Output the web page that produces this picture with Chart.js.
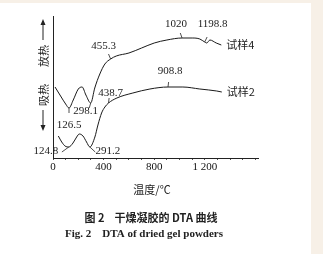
<!DOCTYPE html>
<html>
<head>
<meta charset="utf-8">
<script src="https://cdn.jsdelivr.net/npm/chart.js@4.4.1/dist/chart.umd.min.js"></script>
<style>
  html, body { margin: 0; padding: 0; background: #f7f0e7; }
  #wrap { width: 323px; height: 254px; }
</style>
</head>
<body>
<div id="wrap"><canvas id="dta"></canvas></div>
<script>
// DTA curves, temperature (°C) vs. signal (arbitrary units)
const s4Temp = [16, 60, 100, 126.5, 160, 200, 230, 260, 298.1, 330, 370, 410, 455.3, 500, 600, 700, 800, 900, 1020, 1100, 1160, 1198.8, 1215, 1240, 1290, 1330];
const s4Val  = [71, 62, 54, 50, 58, 69, 71, 63, 55, 70, 84, 94, 99, 102, 105, 110, 115, 118, 120, 120, 119, 116, 115, 118, 115, 113];
const s2Temp = [42, 69, 95, 124.8, 158, 187, 208, 237, 265, 291.2, 331, 355, 384, 410, 438.7, 505, 631, 766, 908.8, 1026, 1160, 1294, 1334];
const s2Val  = [22, 16, 12, 11, 15, 21, 24, 22, 16, 11, 21, 33, 45, 51, 55, 60, 65, 69, 71, 71, 69, 67, 66];
const xTickLabels = { 0: '0', 400: '400', 800: '800', 1200: '1 200' };
const seriesNames = ['试样4', '试样2'];

// peak labels: [text, temp, value, dx, dy]
const peaks = [
  ['455.3', 455.3, 99, -7, -13],
  ['1020', 1020, 120, -6, -14],
  ['1198.8', 1198.8, 116, 8, -18],
  ['908.8', 908.8, 71, 2, -16],
  ['438.7', 438.7, 55, 2, -10],
  ['298.1', 298.1, 55, -5, 8],
  ['126.5', 126.5, 50, 0, 17],
  ['124.8', 124.8, 11, -23, 4],
  ['291.2', 291.2, 11, 18, 4],
];

const SERIF = '"Liberation Serif", "DejaVu Serif", serif';
const CJK = '"Noto Sans CJK SC", sans-serif';

const toPoints = (xs, ys) => xs.map((x, i) => ({ x, y: ys[i] }));

// background paper + annotations
const decor = {
  id: 'decor',
  beforeDraw(chart) {
    const c = chart.ctx;
    c.save();
    c.fillStyle = '#f7f0e7';
    c.fillRect(0, 0, chart.width, chart.height);
    c.fillStyle = '#ffffff';
    c.fillRect(0, 3, 311, chart.height - 3);
    c.restore();
  },
  afterDraw(chart) {
    const c = chart.ctx;
    const xs = chart.scales.x, ys = chart.scales.y;
    c.save();
    c.fillStyle = '#222';
    c.strokeStyle = '#222';
    c.lineWidth = 0.8;
    c.textAlign = 'center';
    c.textBaseline = 'middle';

    // peak values with short leaders
    c.font = '11px ' + SERIF;
    peaks.forEach(([txt, t, v, dx, dy]) => {
      const px = xs.getPixelForValue(t), py = ys.getPixelForValue(v);
      c.fillText(txt, px + dx, py + dy);
      const sign = dy < 0 ? -1 : 1;
      c.beginPath();
      c.moveTo(px, py);
      c.lineTo(px + dx * 0.3, py + sign * 5);
      c.stroke();
    });

    // series names at curve ends
    c.font = '11px ' + CJK;
    c.textAlign = 'left';
    const ends = [[s4Temp, s4Val], [s2Temp, s2Val]];
    ends.forEach(([tx, vy], i) => {
      const n = tx.length - 1;
      c.fillText(seriesNames[i], xs.getPixelForValue(tx[n]) + 5, ys.getPixelForValue(vy[n]));
    });

    // y axis title: 吸热 / 放热 with arrows
    const ax = 44;
    c.save();
    c.translate(ax, 0);
    c.rotate(-Math.PI / 2);
    c.textAlign = 'center';
    c.font = '11px ' + CJK;
    c.fillText('放热', -56, 0);
    c.fillText('吸热', -95, 0);
    c.restore();
    c.lineWidth = 1;
    c.beginPath();
    c.moveTo(ax - 1, 40); c.lineTo(ax - 1, 22);
    c.moveTo(ax - 1, 110); c.lineTo(ax - 1, 128);
    c.stroke();
    c.beginPath();
    c.moveTo(ax - 1, 19); c.lineTo(ax - 3.5, 25); c.lineTo(ax + 1.5, 25); c.closePath();
    c.moveTo(ax - 1, 131); c.lineTo(ax - 3.5, 125); c.lineTo(ax + 1.5, 125); c.closePath();
    c.fill();

    // x axis title and captions
    c.textAlign = 'center';
    c.font = '11px ' + CJK;
    c.fillText('温度/℃', 152, 190);
    c.font = 'bold 11px ' + CJK;
    c.fillText('图 2    干燥凝胶的 DTA 曲线', 151, 218);
    c.font = 'bold 11px ' + SERIF;
    c.fillText('Fig. 2    DTA of dried gel powders', 144, 234);
    c.restore();
  }
};

const lineStyle = {
  borderColor: '#1a1a1a',
  borderWidth: 1,
  pointRadius: 0,
  cubicInterpolationMode: 'monotone',
  fill: false,
};

new Chart(document.getElementById('dta'), {
  type: 'line',
  data: {
    datasets: [
      { label: seriesNames[0], data: toPoints(s4Temp, s4Val), ...lineStyle },
      { label: seriesNames[1], data: toPoints(s2Temp, s2Val), ...lineStyle },
    ]
  },
  options: {
    responsive: true,
    maintainAspectRatio: false,
    animation: false,
    layout: { padding: { left: 0, top: 16, right: 65, bottom: 0 } },
    plugins: { legend: { display: false }, tooltip: { enabled: false } },
    scales: {
      x: {
        type: 'linear',
        min: 0,
        max: 1620,
        afterFit: (s) => { s.height = 96; },
        afterBuildTicks: (s) => {
          const t = [];
          for (let v = 0; v <= 1600; v += 100) t.push({ value: v });
          s.ticks = t;
        },
        border: { color: '#222', width: 1 },
        grid: { drawOnChartArea: false, drawTicks: true, tickLength: 2, color: '#555' },
        ticks: {
          autoSkip: false,
          maxRotation: 0,
          padding: 1,
          color: '#111',
          font: { family: SERIF, size: 11 },
          callback: (v) => xTickLabels[v] ?? ''
        }
      },
      y: {
        min: 0,
        max: 142,
        afterFit: (s) => { s.width = 53; },
        border: { color: '#222', width: 1 },
        grid: { display: false },
        ticks: { display: false }
      }
    }
  },
  plugins: [decor]
});
</script>
</body>
</html>
